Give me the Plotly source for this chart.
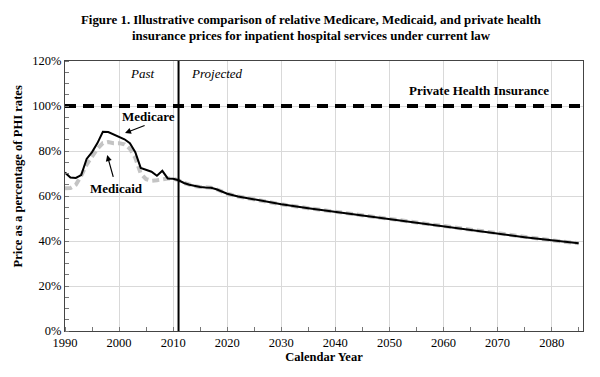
import plotly.graph_objects as go

# ---- data ----
medicare_years = [1990, 1991, 1992, 1993, 1994, 1995, 1996, 1997, 1998, 1999, 2000, 2001, 2002, 2003,
                  2004, 2005, 2006, 2007, 2008, 2009, 2010, 2011, 2012, 2013, 2014, 2015, 2016, 2017,
                  2018, 2019, 2020, 2022, 2025, 2030, 2035, 2040, 2045, 2050, 2055, 2060, 2065, 2070,
                  2075, 2080, 2085]
medicare_vals = [70.4, 68.2, 68.0, 69.3, 76.5, 79.5, 83.5, 88.5, 88.4, 87.3, 86.3, 85.2, 83.5, 79.5,
                 72.5, 71.5, 70.8, 69.0, 71.2, 67.8, 67.7, 67.0, 65.8, 65.0, 64.4, 64.0, 63.8, 63.7,
                 63.0, 62.0, 61.0, 59.8, 58.5, 56.3, 54.6, 53.0, 51.3, 49.6, 48.0, 46.4, 44.7, 43.1,
                 41.7, 40.3, 39.0]

medicaid_years = [1990, 1991, 1992, 1993, 1994, 1995, 1996, 1997, 1998, 1999, 2000, 2001, 2002, 2003,
                  2004, 2005, 2006, 2007, 2008, 2009, 2010, 2011, 2012, 2013, 2014, 2015, 2016, 2017,
                  2018, 2019, 2020, 2022, 2025, 2030, 2035, 2040, 2045, 2050, 2055, 2060, 2065, 2070,
                  2075, 2080, 2085]
medicaid_vals = [63.4, 63.5, 65.0, 69.0, 74.0, 77.5, 81.0, 83.5, 84.0, 83.5, 83.5, 83.0, 81.0, 77.0,
                 70.0, 67.5, 66.8, 67.0, 67.5, 67.8, 67.7, 67.0, 65.8, 65.0, 64.4, 64.0, 63.8, 63.7,
                 63.0, 62.0, 61.0, 59.8, 58.5, 56.3, 54.6, 53.0, 51.3, 49.6, 48.0, 46.4, 44.7, 43.1,
                 41.7, 40.3, 39.0]

phi_years = [1990, 2085.5]
phi_vals = [100, 100]

projection_start = 2011

x_ticks = [1990, 2000, 2010, 2020, 2030, 2040, 2050, 2060, 2070, 2080]
y_ticks = [0, 20, 40, 60, 80, 100, 120]
y_ticklabels = ["0%", "20%", "40%", "60%", "80%", "100%", "120%"]

SERIF = "Liberation Serif, Times New Roman, serif"

# the page body adds an 8px offset; the figure is sized to fill the rest of the window
W, H, OFF = 592, 369, 8
L, R, T, B = 65 - OFF, 17, 61 - OFF, 46
PW, PH = W - L - R, H - T - B

fig = go.Figure()
fig.add_trace(go.Scatter(x=medicaid_years, y=medicaid_vals, mode="lines",
                         line=dict(color="#c4c4c4", width=4, dash="7px,4px"),
                         name="Medicaid", hoverinfo="skip"))
fig.add_trace(go.Scatter(x=medicare_years, y=medicare_vals, mode="lines",
                         line=dict(color="black", width=2),
                         name="Medicare", hoverinfo="skip"))
fig.add_trace(go.Scatter(x=phi_years, y=phi_vals, mode="lines",
                         line=dict(color="black", width=4, dash="11px,7px"),
                         name="Private Health Insurance", hoverinfo="skip"))

fig.add_shape(type="line", x0=projection_start, x1=projection_start, y0=0, y1=1,
              xref="x", yref="paper", line=dict(color="black", width=2))

fig.add_annotation(x=2001.1, y=88.0, ax=2005.0, ay=91.6, axref="x", ayref="y",
                   text="", showarrow=True, arrowhead=2, arrowsize=1, arrowwidth=1.2,
                   arrowcolor="black")
fig.add_annotation(x=2005.4, y=95.3, text="<b>Medicare</b>", showarrow=False,
                   font=dict(family=SERIF, size=13, color="black"))
fig.add_annotation(x=1997.8, y=78.2, ax=1999.0, ay=67.8, axref="x", ayref="y",
                   text="", showarrow=True, arrowhead=2, arrowsize=1, arrowwidth=1.2,
                   arrowcolor="black")
fig.add_annotation(x=1999.5, y=63.3, text="<b>Medicaid</b>", showarrow=False,
                   font=dict(family=SERIF, size=13, color="black"))
fig.add_annotation(x=2004.4, y=114.3, text="<i>Past</i>", showarrow=False,
                   font=dict(family=SERIF, size=13, color="black"))
fig.add_annotation(x=2018.1, y=114.3, text="<i>Projected</i>", showarrow=False,
                   font=dict(family=SERIF, size=13, color="black"))
fig.add_annotation(x=2066.5, y=106.8, text="<b>Private Health Insurance</b>", showarrow=False,
                   font=dict(family=SERIF, size=13, color="black"))

# y-axis title (placed as rotated text to match the reference position)
fig.add_annotation(xref="paper", yref="paper",
                   x=(17 - 65) / PW, y=(331 - 176.5) / PH,
                   text="<b>Price as a percentage of PHI rates</b>", textangle=-90,
                   showarrow=False, xanchor="center", yanchor="middle",
                   font=dict(family=SERIF, size=12.6, color="black"))

fig.update_layout(
    width=W, height=H,
    margin=dict(l=L, r=R, t=T, b=B, autoexpand=False),
    paper_bgcolor="white", plot_bgcolor="white",
    showlegend=False,
    title=dict(text="<b>Figure 1. Illustrative comparison of relative Medicare, Medicaid, and private health<br>insurance prices for inpatient hospital services under current law</b>",
               x=(311 - OFF) / W, xanchor="center", y=1 - (23.5 - OFF) / H, yanchor="middle",
               font=dict(family=SERIF, size=12.9, color="black")),
    font=dict(family=SERIF, color="black"),
)
fig.update_xaxes(range=[1990, 2085.8], tickvals=x_ticks, ticks="", automargin=False,
                 showgrid=True, gridcolor="#d9d9d9", gridwidth=1,
                 showline=True, linecolor="#444444", linewidth=1, mirror=True,
                 minor=dict(dtick=5, tick0=1990, ticks="inside", ticklen=4, tickcolor="#777777",
                            showgrid=False),
                 tickfont=dict(family=SERIF, size=12.5, color="black"),
                 title=dict(text="<b>Calendar Year</b>", standoff=2,
                            font=dict(family=SERIF, size=12.5, color="black")),
                 zeroline=False)
fig.update_yaxes(range=[0, 120], tickvals=y_ticks, ticktext=y_ticklabels, ticks="", automargin=False,
                 showgrid=True, gridcolor="#d9d9d9", gridwidth=1,
                 showline=True, linecolor="#444444", linewidth=1, mirror=True,
                 minor=dict(dtick=5, tick0=0, ticks="inside", ticklen=4, tickcolor="#777777",
                            showgrid=False),
                 tickfont=dict(family=SERIF, size=12.5, color="black"),
                 zeroline=False)

fig.write_html("out.html")
